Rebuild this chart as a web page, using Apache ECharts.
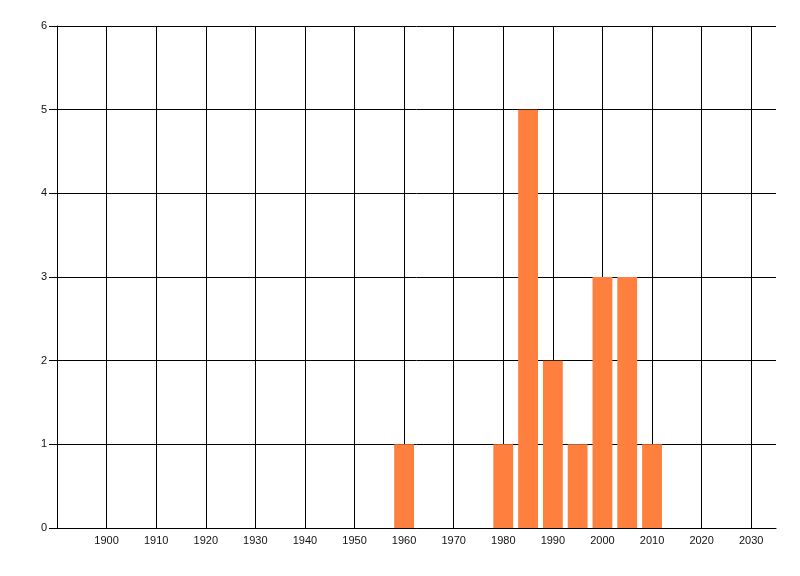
<!DOCTYPE html>
<html>
<head>
<meta charset="utf-8">
<script src="https://cdn.jsdelivr.net/npm/echarts@6/dist/echarts.min.js"></script>
<style>
  html, body { margin: 0; padding: 0; background: #fff; }
  #chart { width: 800px; height: 576px; }
</style>
</head>
<body>
<div id="chart"></div>
<script>
// Counts per five-year bin, bars centred on the bin year.
const years = [1960, 1980, 1985, 1990, 1995, 2000, 2005, 2010];
const counts = [1, 1, 5, 2, 1, 3, 3, 1];

const X_MIN = 1890, X_MAX = 2035;
const BAR_YEARS = 4; // each bar spans 4 years on the axis

const chart = echarts.init(document.getElementById('chart'), null, { renderer: 'canvas' });
const font = { color: '#111', fontSize: 11, fontFamily: 'Liberation Sans, Arial, sans-serif' };

chart.setOption({
  animation: false,
  grid: { left: 57, right: 24, top: 26, bottom: 48, containLabel: false },
  xAxis: {
    type: 'value', min: X_MIN, max: X_MAX, interval: 10,
    axisLine: { show: true, onZero: false, lineStyle: { color: '#000', width: 1 } },
    axisTick: { show: false },
    axisLabel: {
      ...font, margin: 7,
      formatter: (v) => (v <= X_MIN || v >= X_MAX ? '' : String(v)),
    },
    splitLine: { show: true, showMinLine: false, showMaxLine: false, lineStyle: { color: '#000', width: 1 } },
  },
  yAxis: {
    type: 'value', min: 0, max: 6, interval: 1,
    axisLine: { show: true, lineStyle: { color: '#000', width: 1 } },
    axisTick: { show: true, length: 8, lineStyle: { color: '#000' } },
    axisLabel: { ...font, margin: 10 },
    splitLine: { show: true, lineStyle: { color: '#000', width: 1 } },
  },
  series: [{
    type: 'custom',
    renderItem: (params, api) => {
      const x = api.value(0), y = api.value(1);
      const p0 = api.coord([x - BAR_YEARS / 2, y]);
      const p1 = api.coord([x + BAR_YEARS / 2, 0]);
      return {
        type: 'rect',
        shape: { x: p0[0], y: p0[1], width: p1[0] - p0[0], height: p1[1] - p0[1] },
        style: { fill: '#FF7F3F' },
      };
    },
    encode: { x: 0, y: 1 },
    data: years.map((yr, i) => [yr, counts[i]]),
    z: 10,
  }],
});
</script>
</body>
</html>
